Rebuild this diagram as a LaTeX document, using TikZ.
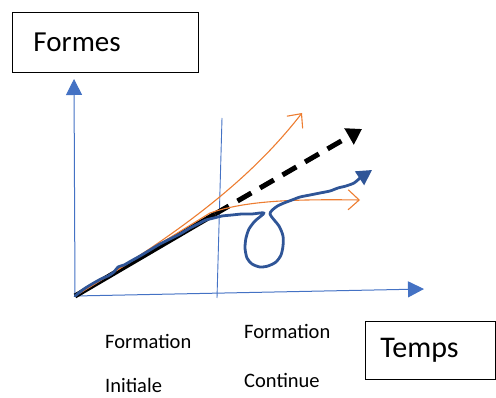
\documentclass[tikz,border=0pt]{standalone}
\usepackage{fontspec}
\setmainfont{Carlito}
\usepackage{xcolor}
\usepackage{tikz}
\usetikzlibrary{arrows.meta,calc}
\definecolor{axisblue}{HTML}{4472C4}
\definecolor{deepblue}{HTML}{2F5597}
\definecolor{tangerine}{HTML}{ED7D31}
\definecolor{ink}{HTML}{000000}
\tikzset{
  x=1pt, y=-1pt,
  >=Triangle,
  labelbox/.style = {draw=ink, line width=0.9pt, align=left, inner ysep=0pt,
                     text=ink},
  plain/.style    = {anchor=base west, inner sep=0pt, text=ink,
                     font=\fontsize{20.5}{24}\selectfont},
  axis/.style     = {-{Triangle[length=16pt,width=16pt]}, draw=axisblue,
                     line width=1pt},
  divider/.style  = {draw=axisblue, line width=0.9pt},
  trend/.style    = {draw=ink, line width=5pt},
  guess/.style    = {-{Triangle[length=15pt,width=18pt]}, draw=ink,
                     line width=5pt, dash pattern=on 16pt off 10pt},
  branch/.style   = {-{Straight Barb[length=11pt,width=20pt]},
                     draw=tangerine, line width=1.1pt},
  actual/.style   = {-{Triangle[length=15pt,width=16pt]}, draw=deepblue,
                     line width=2.8pt, line join=round, line cap=round},
}

\begin{document}
\begin{tikzpicture}
\useasboundingbox (0,0) rectangle (496,398);

% ---- boxes ------------------------------------------------------------
\node[labelbox, anchor=north west, minimum width=186pt, minimum height=60pt,
      text width=144pt, inner xsep=21pt, font=\fontsize{29}{34}\selectfont]
  at (12,12) (formes) {Formes};
\node[labelbox, anchor=north west, minimum width=130pt, minimum height=58pt,
      text width=100pt, inner xsep=15pt, font=\fontsize{30}{35}\selectfont]
  at (365,321) (temps) {Temps};

% ---- phase labels -----------------------------------------------------
\node[plain] at (105,349) (fi1) {Formation};
\node[plain] at (105,392) (fi2) {Initiale};
\node[plain] at (244,339) (fc1) {Formation};
\node[plain] at (244,388) (fc2) {Continue};

% ---- axes -------------------------------------------------------------
\coordinate (O)    at (75,296);
\coordinate (ytip) at (74,79);
\coordinate (xtip) at (424,289);
\coordinate (dtop) at (222,118);
\coordinate (dbot) at (217,298);
\draw[axis] (O) -- (ytip);
\draw[axis] (O) -- (xtip);
\draw[divider] (dtop) -- (dbot);

% ---- straight trend, then its projection -------------------------------
\coordinate (knee)  at (215,214);
\coordinate (ktip)  at (362,129);
\draw[trend] (O) -- (knee);
\draw[guess] (knee) -- (ktip);

% ---- the two orange branches ------------------------------------------
\coordinate (uptip)   at (302,113);
\coordinate (flattip) at (360,200);
\draw[branch] (O) .. controls (180,233) and (250,180) .. (uptip);
\draw[branch] (O) -- (210,213) .. controls (245,201) and (290,199) .. (flattip);

% ---- the real path, loop included -------------------------------------
\coordinate (btip) at (372,170);
\draw[actual] plot[smooth, tension=0.45] coordinates {
  (O) (84,289) (92,284) (101,279) (108,276) (114,272) (118,267) (124,265)
  (131,261) (140,256) (150,250) (160,244) (170,239) (180,234) (190,228)
  (198,224) (206,220) (214,218) (222,216) (232,215) (242,214) (252,214)
  (264,213) (255,221) (249,229) (246,238) (245,248) (247,258) (252,264)
  (260,267) (268,266) (276,262) (281,255) (283,246) (283,236) (279,226)
  (270,214) (276,207) (284,203) (292,200) (300,197) (310,195) (320,193)
  (330,191) (338,188) (346,186) (354,183) (360,178)}
  -- (btip);

\end{tikzpicture}
\end{document}
